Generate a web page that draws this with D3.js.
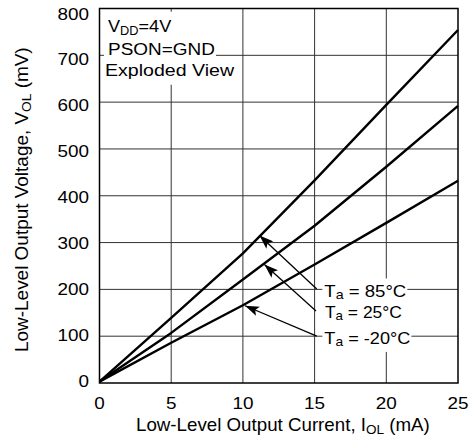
<!DOCTYPE html>
<html><head><meta charset="utf-8">
<script src="https://cdn.jsdelivr.net/npm/d3@7"></script>
<style>html,body{margin:0;padding:0;background:#fff;}svg{display:block;font-family:"Liberation Sans",Arial,Helvetica,sans-serif;}</style>
</head><body>
<svg id="c" width="469" height="446"></svg>
<script>
// ---- data ----
const currents = [0, 5, 10, 15, 20, 25];            // I_OL (mA)
const v85  = [3, 139, 277, 433, 594, 754];           // V_OL (mV), Ta = 85°C
const v25  = [3, 107, 221, 336, 462, 592];           // Ta = 25°C
const vm20 = [3, 86, 166, 253, 342, 432];            // Ta = -20°C
const xTicks = [0, 5, 10, 15, 20, 25];
const yTicks = [0, 100, 200, 300, 400, 500, 600, 700, 800];
const labelTemps = ["85°C", "25°C", "-20°C"];
const labelWidths = [82, 77, 86];
const labelPos = [[15.68, 183], [15.72, 139], [15.68, 83]];   // text anchor (mA, mV)
const leaderFrom = [[15.15, 201], [15.1, 154], [15.15, 100]];
const leaderTip  = [[11.16, 315], [11.5, 253], [10.15, 165]];
const infoLines = ["VDD=4V", "PSON=GND", "Exploded View"];

const svg = d3.select("#c");
const x = d3.scaleLinear().domain([0, 25]).range([99.5, 458]);
const y = d3.scaleLinear().domain([0, 800]).range([383, 8.5]);
const yLab = d3.scaleLinear().domain([0, 800]).range([387, 19.5]); // label baselines

// defs
svg.append("defs").append("marker").attr("id", "ah")
  .attr("viewBox", "0 0 14 10").attr("refX", 14).attr("refY", 5)
  .attr("markerWidth", 14).attr("markerHeight", 10).attr("markerUnits", "userSpaceOnUse")
  .attr("orient", "auto")
  .append("path").attr("d", "M0,0 L14,5 L0,10 L3,5 Z").attr("fill", "#000");

// grid
const grid = svg.append("g");
grid.selectAll("line.v").data(xTicks.slice(1, -1)).join("line")
  .attr("x1", d => x(d)).attr("x2", d => x(d)).attr("y1", y(800)).attr("y2", y(0))
  .attr("stroke", "#333").attr("stroke-width", 1);
grid.selectAll("line.h").data(yTicks.slice(1, -1)).join("line")
  .attr("y1", d => y(d)).attr("y2", d => y(d)).attr("x1", x(0)).attr("x2", x(25))
  .attr("stroke", "#333").attr("stroke-width", 1);

// helper: place stretched text
function stretchText(parent, px, py, target, anchor, size, build, rot) {
  const g = parent.append("g").attr("transform", `translate(${px},${py})` + (rot ? ` rotate(${rot})` : ""));
  const inner = g.append("g");
  const t = inner.append("text").attr("text-anchor", anchor).attr("font-size", size).attr("fill", "#000");
  build(t);
  const w = t.node().getBBox().width;
  const sx = target / w;
  inner.attr("transform", `scale(${sx},1)`);
  return {g, t, sx};
}
function whiteBox(parent, px, py, w, size, padL, padR, padT, padB) {
  parent.append("rect").attr("x", px - padL).attr("y", py - size * 0.93 - padT)
    .attr("width", w + padL + padR).attr("height", size * 0.93 + size * 0.22 + padT + padB)
    .attr("fill", "#fff");
}

// info text (top-left)
const infoG = svg.append("g");
const infoLeft = [108, 108, 105];
const infoRight = [172, 215, 235];
const infoBase = [31.5, 55, 76];
infoLines.forEach((s, i) => {
  whiteBox(infoG, infoLeft[i], infoBase[i], infoRight[i] - infoLeft[i], 17, 4, 1, 4, 5);
});
infoLines.forEach((s, i) => {
  stretchText(infoG, infoLeft[i], infoBase[i], infoRight[i] - infoLeft[i], "start", 17, t => {
    if (i === 0) {
      t.append("tspan").text("V");
      t.append("tspan").attr("font-size", 12).attr("dy", 3).text("DD");
      t.append("tspan").attr("dy", -3).text("=4V");
    } else t.text(s);
  });
});

// annotation boxes + leaders
const ann = svg.append("g");
labelTemps.forEach((s, i) => {
  whiteBox(ann, x(labelPos[i][0]), y(labelPos[i][1]), labelWidths[i], 17, 2, 1, 3, 4);
});
labelTemps.forEach((s, i) => {
  ann.append("line")
    .attr("x1", x(leaderFrom[i][0])).attr("y1", y(leaderFrom[i][1]))
    .attr("x2", x(leaderTip[i][0])).attr("y2", y(leaderTip[i][1]))
    .attr("stroke", "#000").attr("stroke-width", 1.3).attr("marker-end", "url(#ah)");
  stretchText(ann, x(labelPos[i][0]), y(labelPos[i][1]), labelWidths[i], "start", 17, t => {
    t.append("tspan").text("T");
    t.append("tspan").attr("font-size", 13).attr("dy", 2).text("a");
    t.append("tspan").attr("dy", -2).text(" = " + s);
  });
});

// curves
const line = d3.line().x((d, i) => x(currents[i])).y(d => y(d));
[v85, v25, vm20].forEach(arr => {
  svg.append("path").datum(arr).attr("d", line)
    .attr("fill", "none").attr("stroke", "#000").attr("stroke-width", 2.4)
    .attr("stroke-linejoin", "round");
});

// frame
svg.append("rect").attr("x", x(0)).attr("y", y(800))
  .attr("width", x(25) - x(0)).attr("height", y(0) - y(800))
  .attr("fill", "none").attr("stroke", "#000").attr("stroke-width", 1.5);

// tick labels
const tickG = svg.append("g");
xTicks.forEach(v => {
  const g = tickG.append("g").attr("transform", `translate(${x(v)},409) scale(1.18,1)`);
  g.append("text").attr("text-anchor", "middle").attr("font-size", 16).text(v);
});
yTicks.forEach(v => {
  const g = tickG.append("g").attr("transform", `translate(89,${yLab(v)}) scale(1.18,1)`);
  g.append("text").attr("text-anchor", "end").attr("font-size", 16).text(v);
});

// axis titles
stretchText(svg, 136, 431, 294, "start", 18, t => {
  t.append("tspan").text("Low-Level Output Current, I");
  t.append("tspan").attr("font-size", 13).attr("dy", 3).text("OL");
  t.append("tspan").attr("dy", -3).text(" (mA)");
});
stretchText(svg, 27.5, 352, 305, "start", 18, t => {
  t.append("tspan").text("Low-Level Output Voltage, V");
  t.append("tspan").attr("font-size", 13).attr("dy", 3).text("OL");
  t.append("tspan").attr("dy", -3).text(" (mV)");
}, -90);
</script>
</body></html>
